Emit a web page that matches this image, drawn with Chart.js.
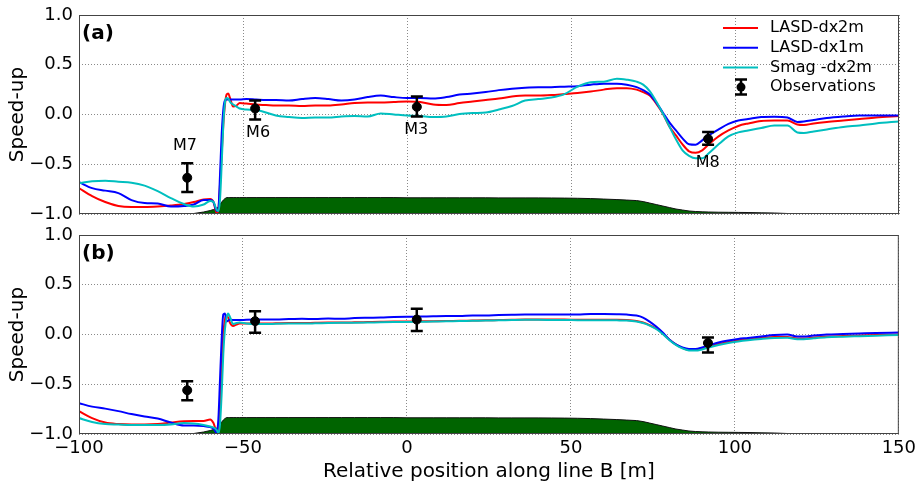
<!DOCTYPE html>
<html>
<head>
<meta charset="utf-8">
<script src="https://cdn.jsdelivr.net/npm/chart.js@4.4.1/dist/chart.umd.min.js"></script>
<style>
html,body{margin:0;padding:0;background:#fff;}
#wrap{position:relative;width:921px;height:489px;}
canvas{position:absolute;left:0;}
#c1{top:0;}
#c2{top:225px;}
</style>
</head>
<body>
<div id="wrap">
<canvas id="c1" width="921" height="225" style="width:921px;height:225px"></canvas>
<canvas id="c2" width="921" height="264" style="width:921px;height:264px"></canvas>
</div>
<script>
// ---- data ----
const xGrid = [-100,-96,-92,-88,-84,-80,-76,-72,-68,-65,-62,-60,-59,-58,-57.5,-57,-56.5,-56,-55.5,-55,-54.5,-54,-53,-52,-51,-49,-46,-43,-40,-36,-32,-28,-24,-20,-16,-12,-8,-4,0,4,8,12,16,20,24,28,32,36,40,44,48,52,56,60,64,67,70,72,74,76,78,80,82,84,86,88,90,92,95,98,101,104,108,112,116,119,121,124,128,133,138,143,150];

const aRed = [-0.74,-0.82,-0.88,-0.92,-0.93,-0.93,-0.925,-0.915,-0.90,-0.88,-0.855,-0.85,-0.88,-0.99,-0.95,-0.70,-0.40,-0.10,0.10,0.20,0.21,0.17,0.08,0.09,0.115,0.11,0.10,0.095,0.09,0.09,0.085,0.09,0.09,0.10,0.115,0.12,0.12,0.125,0.13,0.125,0.10,0.095,0.115,0.13,0.145,0.16,0.18,0.19,0.19,0.195,0.205,0.215,0.23,0.25,0.265,0.265,0.25,0.225,0.19,0.11,0.01,-0.12,-0.21,-0.30,-0.37,-0.385,-0.36,-0.30,-0.22,-0.16,-0.115,-0.09,-0.065,-0.06,-0.06,-0.10,-0.105,-0.09,-0.075,-0.06,-0.045,-0.03,-0.015];
const aBlue = [-0.68,-0.74,-0.765,-0.79,-0.86,-0.89,-0.895,-0.925,-0.92,-0.905,-0.86,-0.86,-0.88,-0.97,-0.95,-0.60,-0.20,0.05,0.14,0.15,0.15,0.15,0.15,0.15,0.15,0.155,0.15,0.145,0.145,0.14,0.155,0.165,0.155,0.14,0.15,0.175,0.19,0.175,0.165,0.165,0.16,0.175,0.20,0.21,0.225,0.245,0.26,0.27,0.275,0.275,0.28,0.285,0.30,0.31,0.31,0.30,0.275,0.245,0.20,0.12,0.02,-0.08,-0.16,-0.24,-0.30,-0.305,-0.26,-0.21,-0.15,-0.095,-0.06,-0.045,-0.025,-0.022,-0.03,-0.075,-0.07,-0.055,-0.035,-0.02,-0.01,-0.01,-0.01];
const aCyan = [-0.69,-0.67,-0.665,-0.675,-0.685,-0.715,-0.77,-0.84,-0.90,-0.925,-0.905,-0.87,-0.88,-0.96,-0.97,-0.85,-0.50,-0.10,0.12,0.165,0.16,0.13,0.10,0.08,0.06,0.05,0.045,0.02,-0.01,-0.025,-0.035,-0.03,-0.03,-0.02,-0.015,-0.02,0.01,0.0,-0.01,-0.015,-0.025,-0.02,0.005,0.015,0.02,0.05,0.085,0.14,0.155,0.17,0.205,0.28,0.325,0.33,0.36,0.35,0.33,0.30,0.235,0.13,0.01,-0.12,-0.25,-0.36,-0.415,-0.44,-0.44,-0.39,-0.30,-0.22,-0.18,-0.16,-0.135,-0.11,-0.11,-0.18,-0.185,-0.17,-0.15,-0.125,-0.11,-0.09,-0.07];

const bRed = [-0.77,-0.84,-0.885,-0.90,-0.905,-0.905,-0.90,-0.885,-0.872,-0.87,-0.87,-0.855,-0.89,-0.97,-0.95,-0.70,-0.35,0.0,0.15,0.19,0.17,0.12,0.085,0.10,0.11,0.11,0.11,0.11,0.112,0.115,0.115,0.118,0.12,0.12,0.122,0.125,0.128,0.13,0.13,0.132,0.133,0.135,0.138,0.14,0.142,0.145,0.148,0.15,0.15,0.15,0.15,0.148,0.148,0.148,0.148,0.145,0.135,0.12,0.095,0.06,0.01,-0.05,-0.10,-0.135,-0.155,-0.155,-0.14,-0.12,-0.095,-0.075,-0.06,-0.05,-0.035,-0.025,-0.025,-0.04,-0.04,-0.03,-0.02,-0.015,-0.01,-0.005,0.0];
const bBlue = [-0.69,-0.725,-0.745,-0.77,-0.80,-0.825,-0.845,-0.885,-0.915,-0.915,-0.92,-0.93,-0.945,-0.99,-0.85,-0.45,-0.05,0.20,0.21,0.13,0.14,0.15,0.145,0.145,0.145,0.148,0.15,0.15,0.15,0.155,0.158,0.155,0.16,0.158,0.165,0.168,0.17,0.175,0.178,0.18,0.183,0.185,0.185,0.19,0.19,0.195,0.198,0.20,0.20,0.20,0.20,0.20,0.205,0.205,0.203,0.20,0.19,0.17,0.13,0.08,0.02,-0.05,-0.10,-0.13,-0.145,-0.145,-0.13,-0.11,-0.08,-0.06,-0.045,-0.035,-0.02,-0.005,0.0,-0.02,-0.02,-0.01,0.0,0.005,0.01,0.015,0.02];
const bCyan = [-0.84,-0.88,-0.90,-0.905,-0.91,-0.91,-0.91,-0.905,-0.89,-0.895,-0.91,-0.925,-0.935,-0.96,-0.99,-0.90,-0.60,-0.20,0.05,0.17,0.21,0.18,0.105,0.115,0.12,0.11,0.105,0.105,0.108,0.11,0.11,0.112,0.115,0.117,0.118,0.12,0.123,0.125,0.126,0.128,0.13,0.132,0.135,0.137,0.14,0.142,0.145,0.147,0.147,0.146,0.145,0.144,0.143,0.143,0.142,0.14,0.13,0.115,0.09,0.055,0.005,-0.055,-0.105,-0.14,-0.16,-0.162,-0.15,-0.13,-0.105,-0.085,-0.07,-0.058,-0.045,-0.035,-0.033,-0.048,-0.047,-0.038,-0.028,-0.022,-0.017,-0.012,-0.005];

const terrain = [-1,-1,-1,-1,-1,-1,-1,-1,-1,-0.995,-0.98,-0.965,-0.955,-0.94,-0.93,-0.905,-0.88,-0.86,-0.845,-0.835,-0.835,-0.835,-0.835,-0.835,-0.835,-0.835,-0.835,-0.835,-0.835,-0.835,-0.835,-0.835,-0.835,-0.835,-0.835,-0.835,-0.835,-0.835,-0.837,-0.837,-0.837,-0.837,-0.837,-0.837,-0.837,-0.838,-0.838,-0.838,-0.838,-0.839,-0.84,-0.842,-0.845,-0.85,-0.855,-0.86,-0.865,-0.875,-0.89,-0.905,-0.92,-0.935,-0.95,-0.96,-0.97,-0.975,-0.978,-0.98,-0.982,-0.983,-0.984,-0.985,-0.988,-0.99,-0.995,-1,-1,-1,-1,-1,-1,-1,-1];

const obsNames = ['M7','M6','M3','M8'];
const obsX = [-67, -46.3, 3, 91.8];
const obsA = [-0.636, 0.06, 0.077, -0.245];
const obsAHi = [-0.49, 0.14, 0.18, -0.175];
const obsALo = [-0.78, -0.05, -0.02, -0.305];
const obsB = [-0.56, 0.134, 0.15, -0.085];
const obsBHi = [-0.47, 0.234, 0.26, -0.03];
const obsBLo = [-0.66, 0.017, 0.035, -0.18];
const labelX = [-67.7, -45.4, 2.8, 91.7];
const labelY = [-0.32, -0.18, -0.15, -0.485];

const xTicks = [-100, -50, 0, 50, 100, 150];
const yTicks = [-1.0, -0.5, 0.0, 0.5, 1.0];
const seriesNames = ['LASD-dx2m', 'LASD-dx1m', 'Smag -dx2m', 'Observations'];
const xTitle = 'Relative position along line B [m]';
const yTitle = 'Speed-up';

// ---- styles ----
const FONT = 'DejaVu Sans';
const RED = '#ff0000', BLUE = '#0000ff', CYAN = '#00bfbf', GREEN = '#006400';
const minus = s => s.replace('-', '\u2212');
const pts = arr => xGrid.map((x, i) => ({x: x, y: arr[i]}));

function datasets(r, b, c, obs) {
  const line = (data, color, order) => ({
    type: 'line', data: pts(data), borderColor: color, borderWidth: 2,
    pointRadius: 0, fill: false, cubicInterpolationMode: 'monotone', order: order
  });
  return [
    {type: 'line', data: pts(terrain), borderColor: '#111', borderWidth: 1,
     backgroundColor: GREEN, fill: 'start', pointRadius: 0, order: 10},
    line(r, RED, 3), line(b, BLUE, 2), line(c, CYAN, 1),
    {type: 'line', data: obsX.map((x, i) => ({x: x, y: obs[i]})), showLine: false,
     pointRadius: 4.5, pointBackgroundColor: '#000', pointBorderColor: '#000', order: 0}
  ];
}

const errPlugin = {
  id: 'errbars',
  afterDatasetsDraw(chart) {
    const o = chart.options.plugins.errbars;
    const {ctx, scales: {x, y}, chartArea} = chart;
    ctx.save();
    ctx.strokeStyle = '#000';
    ctx.lineWidth = 2.5;
    obsX.forEach((xv, i) => {
      const px = x.getPixelForValue(xv);
      const t = y.getPixelForValue(o.hi[i]);
      const b = y.getPixelForValue(o.lo[i]);
      ctx.beginPath();
      ctx.moveTo(px, t); ctx.lineTo(px, b);
      ctx.moveTo(px - 6, t); ctx.lineTo(px + 6, t);
      ctx.moveTo(px - 6, b); ctx.lineTo(px + 6, b);
      ctx.stroke();
    });
    ctx.fillStyle = '#000';
    if (o.names) {
      ctx.font = '16px "' + FONT + '"';
      ctx.textAlign = 'center';
      ctx.textBaseline = 'middle';
      obsNames.forEach((n, i) => {
        ctx.fillText(n, x.getPixelForValue(labelX[i]), y.getPixelForValue(labelY[i]));
      });
    }
    // panel tag
    ctx.font = 'bold 20px "' + FONT + '"';
    ctx.textAlign = 'left';
    ctx.textBaseline = 'middle';
    ctx.fillText(o.tag, chartArea.left + 3, chartArea.top + 19);
    // frame
    ctx.strokeStyle = '#444';
    ctx.lineWidth = 1;
    ctx.strokeRect(chartArea.left + 0.5, chartArea.top + 0.5,
                   chartArea.right - chartArea.left - 1, chartArea.bottom - chartArea.top - 1);
    // legend
    if (o.legend) {
      const lx = chartArea.left + 644, ly = chartArea.top + 13, dy = 19.7;
      const cols = [RED, BLUE, CYAN];
      ctx.font = '16px "' + FONT + '"';
      ctx.textBaseline = 'middle';
      for (let i = 0; i < 4; i++) {
        const yy = ly + i * dy;
        if (i < 3) {
          ctx.strokeStyle = cols[i]; ctx.lineWidth = 2;
          ctx.beginPath(); ctx.moveTo(lx, yy); ctx.lineTo(lx + 35, yy); ctx.stroke();
        } else {
          const cx = lx + 18;
          ctx.strokeStyle = '#000'; ctx.lineWidth = 2.5;
          ctx.beginPath();
          ctx.moveTo(cx, yy - 7.5); ctx.lineTo(cx, yy + 7.5);
          ctx.moveTo(cx - 6, yy - 7.5); ctx.lineTo(cx + 6, yy - 7.5);
          ctx.moveTo(cx - 6, yy + 7.5); ctx.lineTo(cx + 6, yy + 7.5);
          ctx.stroke();
          ctx.beginPath(); ctx.arc(cx, yy, 4.5, 0, Math.PI * 2); ctx.fill();
        }
        ctx.fillStyle = '#000';
        ctx.fillText(seriesNames[i], lx + 47, yy);
      }
    }
    ctx.restore();
  }
};

function makeChart(id, r, b, c, obs, hi, lo, isTop) {
  const tickFont = {family: FONT, size: 18, lineHeight: 1};
  return new Chart(document.getElementById(id), {
    data: {datasets: datasets(r, b, c, obs)},
    options: {
      responsive: false, animation: false, devicePixelRatio: 1,
      layout: {padding: isTop ? {left: 0, top: 15, right: 22, bottom: 11} : {left: 0, top: 10, right: 22, bottom: 0}},
      plugins: {
        legend: {display: false}, tooltip: {enabled: false},
        errbars: {hi: hi, lo: lo, names: isTop, legend: isTop, tag: isTop ? '(a)' : '(b)'}
      },
      scales: {
        x: {
          type: 'linear', min: -100, max: 150,
          afterBuildTicks: s => { s.ticks = xTicks.map(v => ({value: v})); },
          grid: {color: '#8a8a8a', lineWidth: 1, drawTicks: false},
          border: {display: false, dash: [1, 2]},
          ticks: {display: !isTop, padding: 5, color: '#000', font: tickFont,
                  maxRotation: 0, autoSkip: false, callback: v => minus(String(v))},
          title: {display: !isTop, text: xTitle, color: '#000',
                  font: {family: FONT, size: 20}, padding: {top: 0, bottom: 5}},
          afterFit: s => { s.height = isTop ? 0 : 55; }
        },
        y: {
          type: 'linear', min: -1, max: 1,
          afterBuildTicks: s => { s.ticks = yTicks.map(v => ({value: v})); },
          grid: {color: '#8a8a8a', lineWidth: 1, drawTicks: true, tickLength: 6, tickColor: 'rgba(0,0,0,0)'},
          border: {display: false, dash: [1, 2]},
          ticks: {padding: 0, color: '#000', font: tickFont,
                  callback: v => minus(Number(v).toFixed(1))},
          title: {display: true, text: yTitle, color: '#000',
                  font: {family: FONT, size: 20}, padding: {top: 6, bottom: 0}},
          afterFit: s => { s.width = 79; }
        }
      }
    },
    plugins: [errPlugin]
  });
}

makeChart('c1', aRed, aBlue, aCyan, obsA, obsAHi, obsALo, true);
makeChart('c2', bRed, bBlue, bCyan, obsB, obsBHi, obsBLo, false);
</script>
</body>
</html>
